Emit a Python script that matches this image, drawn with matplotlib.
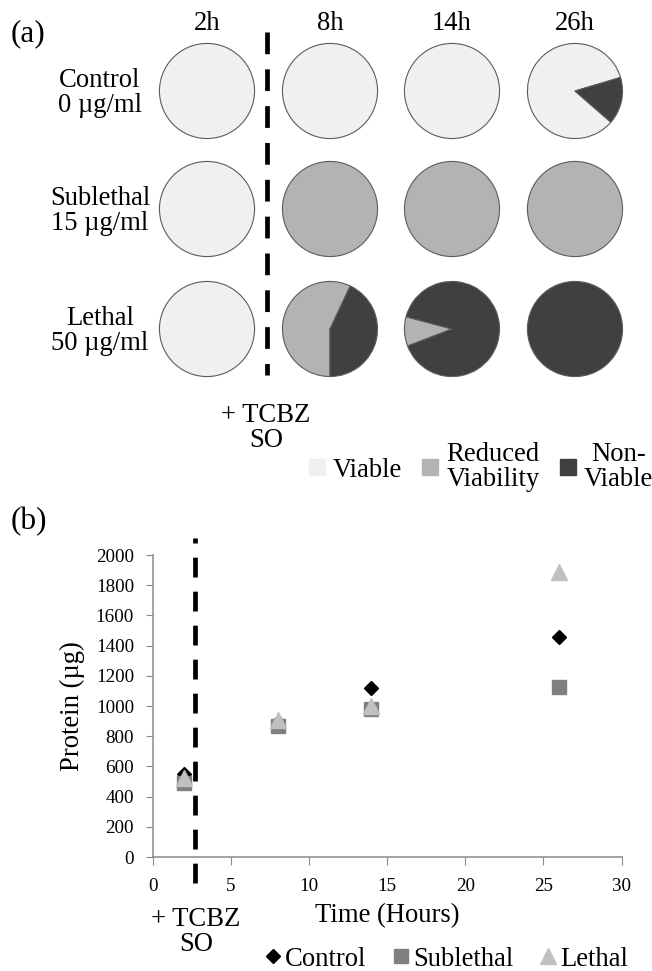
import numpy as np
import matplotlib
matplotlib.use("Agg")
import matplotlib.pyplot as plt
from matplotlib.lines import Line2D

plt.rcParams['font.family'] = ['Liberation Serif', 'DejaVu Serif']

W, H = 652, 971

# ---- panel (a) data: fractions of Viable / Reduced / Non-viable
times = ["2h", "8h", "14h", "26h"]
groups = ["Control\n0 µg/ml", "Sublethal\n15 µg/ml", "Lethal\n50 µg/ml"]
states = ["Viable", "Reduced\nViability", "Non-\nViable"]
state_cols = ["#f0f0f0", "#b3b3b3", "#404040"]
control_frac = [[1, 0, 0], [1, 0, 0], [1, 0, 0], [0.84, 0, 0.16]]
sublethal_frac = [[1, 0, 0], [0, 1, 0], [0, 1, 0], [0, 1, 0]]
lethal_frac = [[1, 0, 0], [0, 0.57, 0.43], [0, 0.10, 0.90], [0, 0, 1]]
start_ang = [[90, 90, 90, 319], [90, 90, 90, 90], [90, 270, 201, 90]]

# ---- panel (b) data: protein (ug) vs time (h)
t_hours = [2, 8, 14, 26]
prot_control = [550, 895, 1120, 1455]
prot_sublethal = [490, 865, 980, 1125]
prot_lethal = [525, 910, 1000, 1890]

fig = plt.figure(figsize=(W / 100, H / 100), dpi=100)

def fx(x):
    return x / W
def fy(y):
    return 1 - y / H

FS = 19.2

# pies
col_x = [207, 330, 452, 575]
row_y = [91, 209, 329]
d = 97
for j, frac in enumerate([control_frac, sublethal_frac, lethal_frac]):
    for i in range(4):
        ax = fig.add_axes([fx(col_x[i] - d / 2), fy(row_y[j] + d / 2), d / W, d / H])
        vals = [v for v in frac[i] if v > 0]
        cols = [c for v, c in zip(frac[i], state_cols) if v > 0]
        ax.pie(vals, colors=cols, startangle=start_ang[j][i], counterclock=False,
               wedgeprops=dict(edgecolor="#5c5c5c", linewidth=0.8))
        ax.set_xlim(-1.02, 1.02)
        ax.set_ylim(-1.02, 1.02)
        ax.axis("off")

for i, t in enumerate(times):
    fig.text(fx(col_x[i]), fy(24), t, ha="center", va="center", fontsize=FS)
for j, g in enumerate(groups):
    fig.text(fx(100), fy(row_y[j] + 2), g, ha="center", va="center", fontsize=FS,
             linespacing=1.05, multialignment="center")

fig.text(fx(11), fy(34), "(a)", ha="left", va="center", fontsize=22.5)
fig.text(fx(11), fy(522), "(b)", ha="left", va="center", fontsize=22.5)

# treatment line panel a
fig.add_artist(Line2D([fx(267), fx(267)], [fy(32), fy(375)], color="black", lw=3.4,
                      linestyle=(0, (4.6, 3.2))))
fig.text(fx(266), fy(428), "+ TCBZ\nSO", ha="center", va="center", fontsize=FS,
         linespacing=1.05)

# pie legend
handles = [Line2D([], [], marker="s", ls="none", ms=11.5, mfc=c, mec=c) for c in state_cols]
leg = fig.legend(handles, states, loc="center left", bbox_to_anchor=(fx(307.7), fy(467)),
                 ncol=3, frameon=False, fontsize=FS, handlelength=0.7,
                 handletextpad=0.25, columnspacing=0.7, borderpad=0, borderaxespad=0)
for txt in leg.get_texts():
    txt.set_multialignment("center")
    txt.set_linespacing(1.0)

# ---- panel (b)
axb = fig.add_axes([fx(152.7), fy(857), (621.5 - 152.7) / W, (857 - 555) / H])
axb.plot(t_hours, prot_control, ls="none", marker="D", ms=7.5, color="black", label="Control")
axb.plot(t_hours, prot_sublethal, ls="none", marker="s", ms=9.5, color="#808080", label="Sublethal")
axb.plot(t_hours, prot_lethal, ls="none", marker="^", ms=11, color="#c0c0c0", label="Lethal")
axb.set_xlim(0, 30)
axb.set_ylim(0, 2000)
axb.set_xticks(np.arange(0, 31, 5))
axb.set_yticks(np.arange(0, 2001, 200))
for s in ["top", "right"]:
    axb.spines[s].set_visible(False)
for s in ["left", "bottom"]:
    axb.spines[s].set_color("#8a8a8a")
    axb.spines[s].set_linewidth(1.1)
axb.tick_params(axis="y", direction="out", length=5, color="#8a8a8a", labelsize=13.7, pad=8.5)
axb.tick_params(axis="x", direction="out", length=6, color="#8a8a8a", labelsize=13.7, pad=9)
axb.set_ylabel("Protein (µg)", fontsize=FS, va="center")
axb.yaxis.set_label_coords((72 - 152.7) / (621.5 - 152.7), 0.5)
axb.set_xlabel("Time (Hours)", fontsize=FS, va="center")
axb.xaxis.set_label_coords(0.5, (857 - 916) / (857 - 555))
axb.axvline(2.7, ymin=-(883 - 857) / 302, ymax=1 + (555 - 538) / 302, color="black",
            lw=3.4, linestyle=(0, (4.2, 3.0)), clip_on=False)
fig.text(fx(196), fy(932), "+ TCBZ\nSO", ha="center", va="center", fontsize=FS,
         linespacing=1.05)
legb = fig.legend(loc="center left", bbox_to_anchor=(fx(265), fy(959)), ncol=3,
                  frameon=False, fontsize=FS, handlelength=0.6, handletextpad=0.15,
                  columnspacing=1.0, borderpad=0, borderaxespad=0)

fig.savefig("out.png", dpi=100)
